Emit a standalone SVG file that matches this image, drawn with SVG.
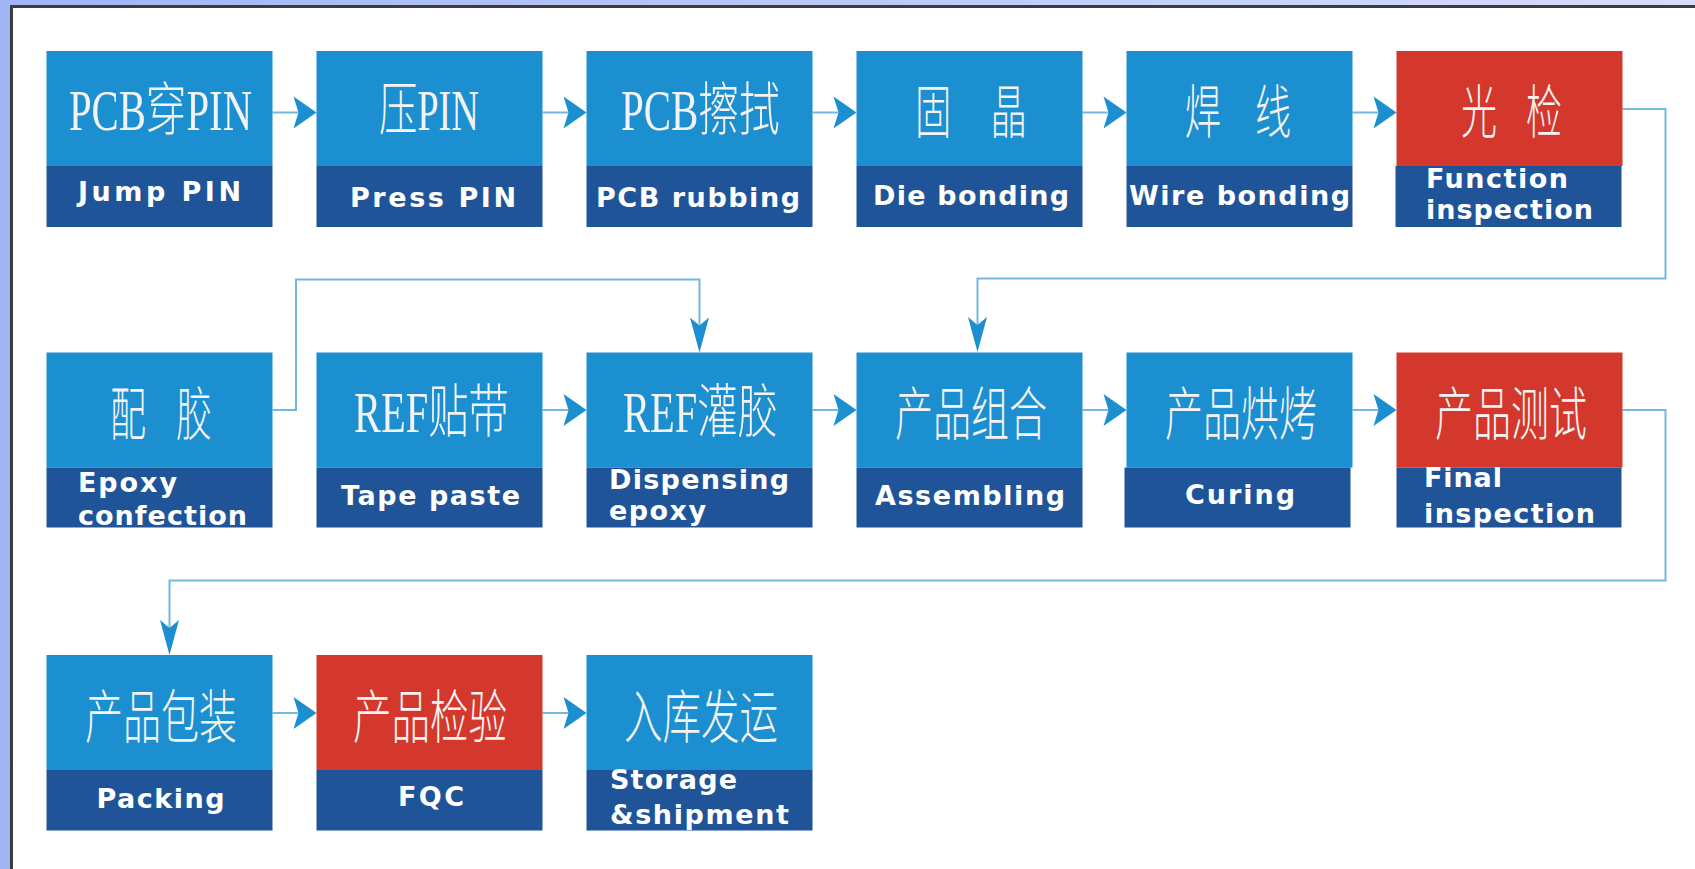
<svg xmlns="http://www.w3.org/2000/svg" width="1695" height="869" viewBox="0 0 1695 869">
<style>
.b{fill:#1b8fd0}
.r{fill:#d4372b}
.l{fill:#1f5598}
.cn{font-family:"Liberation Serif","Noto Sans CJK SC",serif;font-size:58px;font-weight:300;fill:#f3f3f3}
.en{font-family:"DejaVu Sans","Liberation Sans",sans-serif;font-weight:bold;font-size:27px;fill:#ffffff}
.conn{fill:none;stroke:#74b7df;stroke-width:2}
.h{marker-end:url(#ah)}
.v{marker-end:url(#av)}
</style>
<defs>
<linearGradient id="bg" x1="0" y1="0" x2="1" y2="0">
<stop offset="0" stop-color="#a0b5f6"/>
<stop offset="1" stop-color="#d6ddfb"/>
</linearGradient>
<marker id="ah" markerUnits="userSpaceOnUse" markerWidth="23" markerHeight="32" refX="5" refY="16" orient="auto" overflow="visible">
<path d="M0,0 L23,16 L0,32 L5,16 Z" fill="#1b8fd0"/>
</marker>
<marker id="av" markerUnits="userSpaceOnUse" markerWidth="35" markerHeight="19" refX="8" refY="9.5" orient="auto" overflow="visible">
<path d="M0,0 L35,9.5 L0,19 L8,9.5 Z" fill="#1b8fd0"/>
</marker>
</defs>
<rect width="1695" height="869" fill="url(#bg)"/>
<rect x="10" y="5" width="1700" height="880" fill="#3c3c3c"/>
<rect x="13" y="8" width="1700" height="880" fill="#ffffff"/>

<g id="connectors">
<path class="conn h" d="M272.5,112.5 H298.5"/>
<path class="conn h" d="M542.5,112.5 H568.5"/>
<path class="conn h" d="M812.5,112.5 H838.5"/>
<path class="conn h" d="M1082.5,112.5 H1108.5"/>
<path class="conn h" d="M1352.5,112.5 H1378.5"/>
<path class="conn v" d="M1622.5,109 H1665.5 V278.5 H977.5 V325"/>
<path class="conn v" d="M272.5,410 H296 V279.5 H699.5 V325.5"/>
<path class="conn h" d="M542.5,410 H568.5"/>
<path class="conn h" d="M812.5,410 H838.5"/>
<path class="conn h" d="M1082.5,410 H1108.5"/>
<path class="conn h" d="M1352.5,410 H1378.5"/>
<path class="conn v" d="M1622.5,410 H1665.5 V580.5 H169.5 V628"/>
<path class="conn h" d="M272.5,713 H298.5"/>
<path class="conn h" d="M542.5,713 H568.5"/>
</g>

<g id="n1">
<rect class="b" x="46.5" y="51" width="226" height="115"/>
<rect class="l" x="46.5" y="166" width="226" height="61"/>
<text class="cn" x="69" y="130" textLength="183" lengthAdjust="spacingAndGlyphs">PCB穿PIN</text>
<text class="en" x="78" y="201" textLength="163">Jump PIN</text>
</g>
<g id="n2">
<rect class="b" x="316.5" y="51" width="226" height="115"/>
<rect class="l" x="316.5" y="166" width="226" height="61"/>
<text class="cn" x="379" y="130" textLength="100" lengthAdjust="spacingAndGlyphs">压PIN</text>
<text class="en" x="350" y="206.5" textLength="166">Press PIN</text>
</g>
<g id="n3">
<rect class="b" x="586.5" y="51" width="226" height="115"/>
<rect class="l" x="586.5" y="166" width="226" height="61"/>
<text class="cn" x="621" y="130" textLength="159" lengthAdjust="spacingAndGlyphs">PCB擦拭</text>
<text class="en" x="596" y="206.5" textLength="204">PCB rubbing</text>
</g>
<g id="n4">
<rect class="b" x="856.5" y="51" width="226" height="115"/>
<rect class="l" x="856.5" y="166" width="226" height="61"/>
<text class="cn" x="915" y="133" textLength="112" lengthAdjust="spacingAndGlyphs" word-spacing="48">固 晶</text>
<text class="en" x="873" y="205" textLength="196">Die bonding</text>
</g>
<g id="n5">
<rect class="b" x="1126.5" y="51" width="226" height="115"/>
<rect class="l" x="1126.5" y="166" width="226" height="61"/>
<text class="cn" x="1185" y="133" textLength="106" lengthAdjust="spacingAndGlyphs" word-spacing="40">焊 线</text>
<text class="en" x="1129" y="205" textLength="221">Wire bonding</text>
</g>
<g id="n6">
<rect class="r" x="1396.5" y="51" width="226" height="115"/>
<rect class="l" x="1395.5" y="166" width="226" height="61"/>
<text class="cn" x="1461" y="133" textLength="101" lengthAdjust="spacingAndGlyphs" word-spacing="32">光 检</text>
<text class="en" x="1426" y="188" textLength="142">Function</text>
<text class="en" x="1426" y="219" textLength="167">inspection</text>
</g>

<g id="n7">
<rect class="b" x="46.5" y="352.5" width="226" height="115"/>
<rect class="l" x="46.5" y="467.5" width="226" height="60"/>
<text class="cn" x="110" y="435" textLength="102" lengthAdjust="spacingAndGlyphs" word-spacing="34">配 胶</text>
<text class="en" x="78" y="491.5" textLength="99">Epoxy</text>
<text class="en" x="78" y="525" textLength="169">confection</text>
</g>
<g id="n8">
<rect class="b" x="316.5" y="352.5" width="226" height="115"/>
<rect class="l" x="316.5" y="467.5" width="226" height="60"/>
<text class="cn" x="354" y="432" textLength="155" lengthAdjust="spacingAndGlyphs">REF贴带</text>
<text class="en" x="341" y="505" textLength="179">Tape paste</text>
</g>
<g id="n9">
<rect class="b" x="586.5" y="352.5" width="226" height="115"/>
<rect class="l" x="586.5" y="467.5" width="226" height="60"/>
<text class="cn" x="623" y="432" textLength="155" lengthAdjust="spacingAndGlyphs">REF灌胶</text>
<text class="en" x="609" y="488.5" textLength="180">Dispensing</text>
<text class="en" x="609" y="520" textLength="97">epoxy</text>
</g>
<g id="n10">
<rect class="b" x="856.5" y="352.5" width="226" height="115"/>
<rect class="l" x="856.5" y="467.5" width="226" height="60"/>
<text class="cn" x="895" y="435" textLength="152" lengthAdjust="spacingAndGlyphs">产品组合</text>
<text class="en" x="875" y="505" textLength="190">Assembling</text>
</g>
<g id="n11">
<rect class="b" x="1126.5" y="352.5" width="226" height="115"/>
<rect class="l" x="1124.5" y="467.5" width="226" height="60"/>
<text class="cn" x="1165" y="435" textLength="152" lengthAdjust="spacingAndGlyphs">产品烘烤</text>
<text class="en" x="1185" y="504" textLength="110">Curing</text>
</g>
<g id="n12">
<rect class="r" x="1396.5" y="352.5" width="226" height="115"/>
<rect class="l" x="1396.5" y="467.5" width="225" height="60"/>
<text class="cn" x="1435" y="435" textLength="152" lengthAdjust="spacingAndGlyphs">产品测试</text>
<text class="en" x="1424" y="486.5" textLength="78">Final</text>
<text class="en" x="1424" y="523" textLength="171">inspection</text>
</g>

<g id="n13">
<rect class="b" x="46.5" y="655" width="226" height="115"/>
<rect class="l" x="46.5" y="770" width="226" height="60.5"/>
<text class="cn" x="85" y="738" textLength="152" lengthAdjust="spacingAndGlyphs">产品包装</text>
<text class="en" x="96.5" y="808" textLength="128">Packing</text>
</g>
<g id="n14">
<rect class="r" x="316.5" y="655" width="226" height="115"/>
<rect class="l" x="316.5" y="770" width="226" height="60.5"/>
<text class="cn" x="353" y="738" textLength="154" lengthAdjust="spacingAndGlyphs">产品检验</text>
<text class="en" x="398" y="806" textLength="66">FQC</text>
</g>
<g id="n15">
<rect class="b" x="586.5" y="655" width="226" height="115"/>
<rect class="l" x="586.5" y="770" width="226" height="60.5"/>
<text class="cn" x="624" y="738" textLength="154" lengthAdjust="spacingAndGlyphs">入库发运</text>
<text class="en" x="610" y="789" textLength="127">Storage</text>
<text class="en" x="610" y="824" textLength="179">&amp;shipment</text>
</g>
</svg>
